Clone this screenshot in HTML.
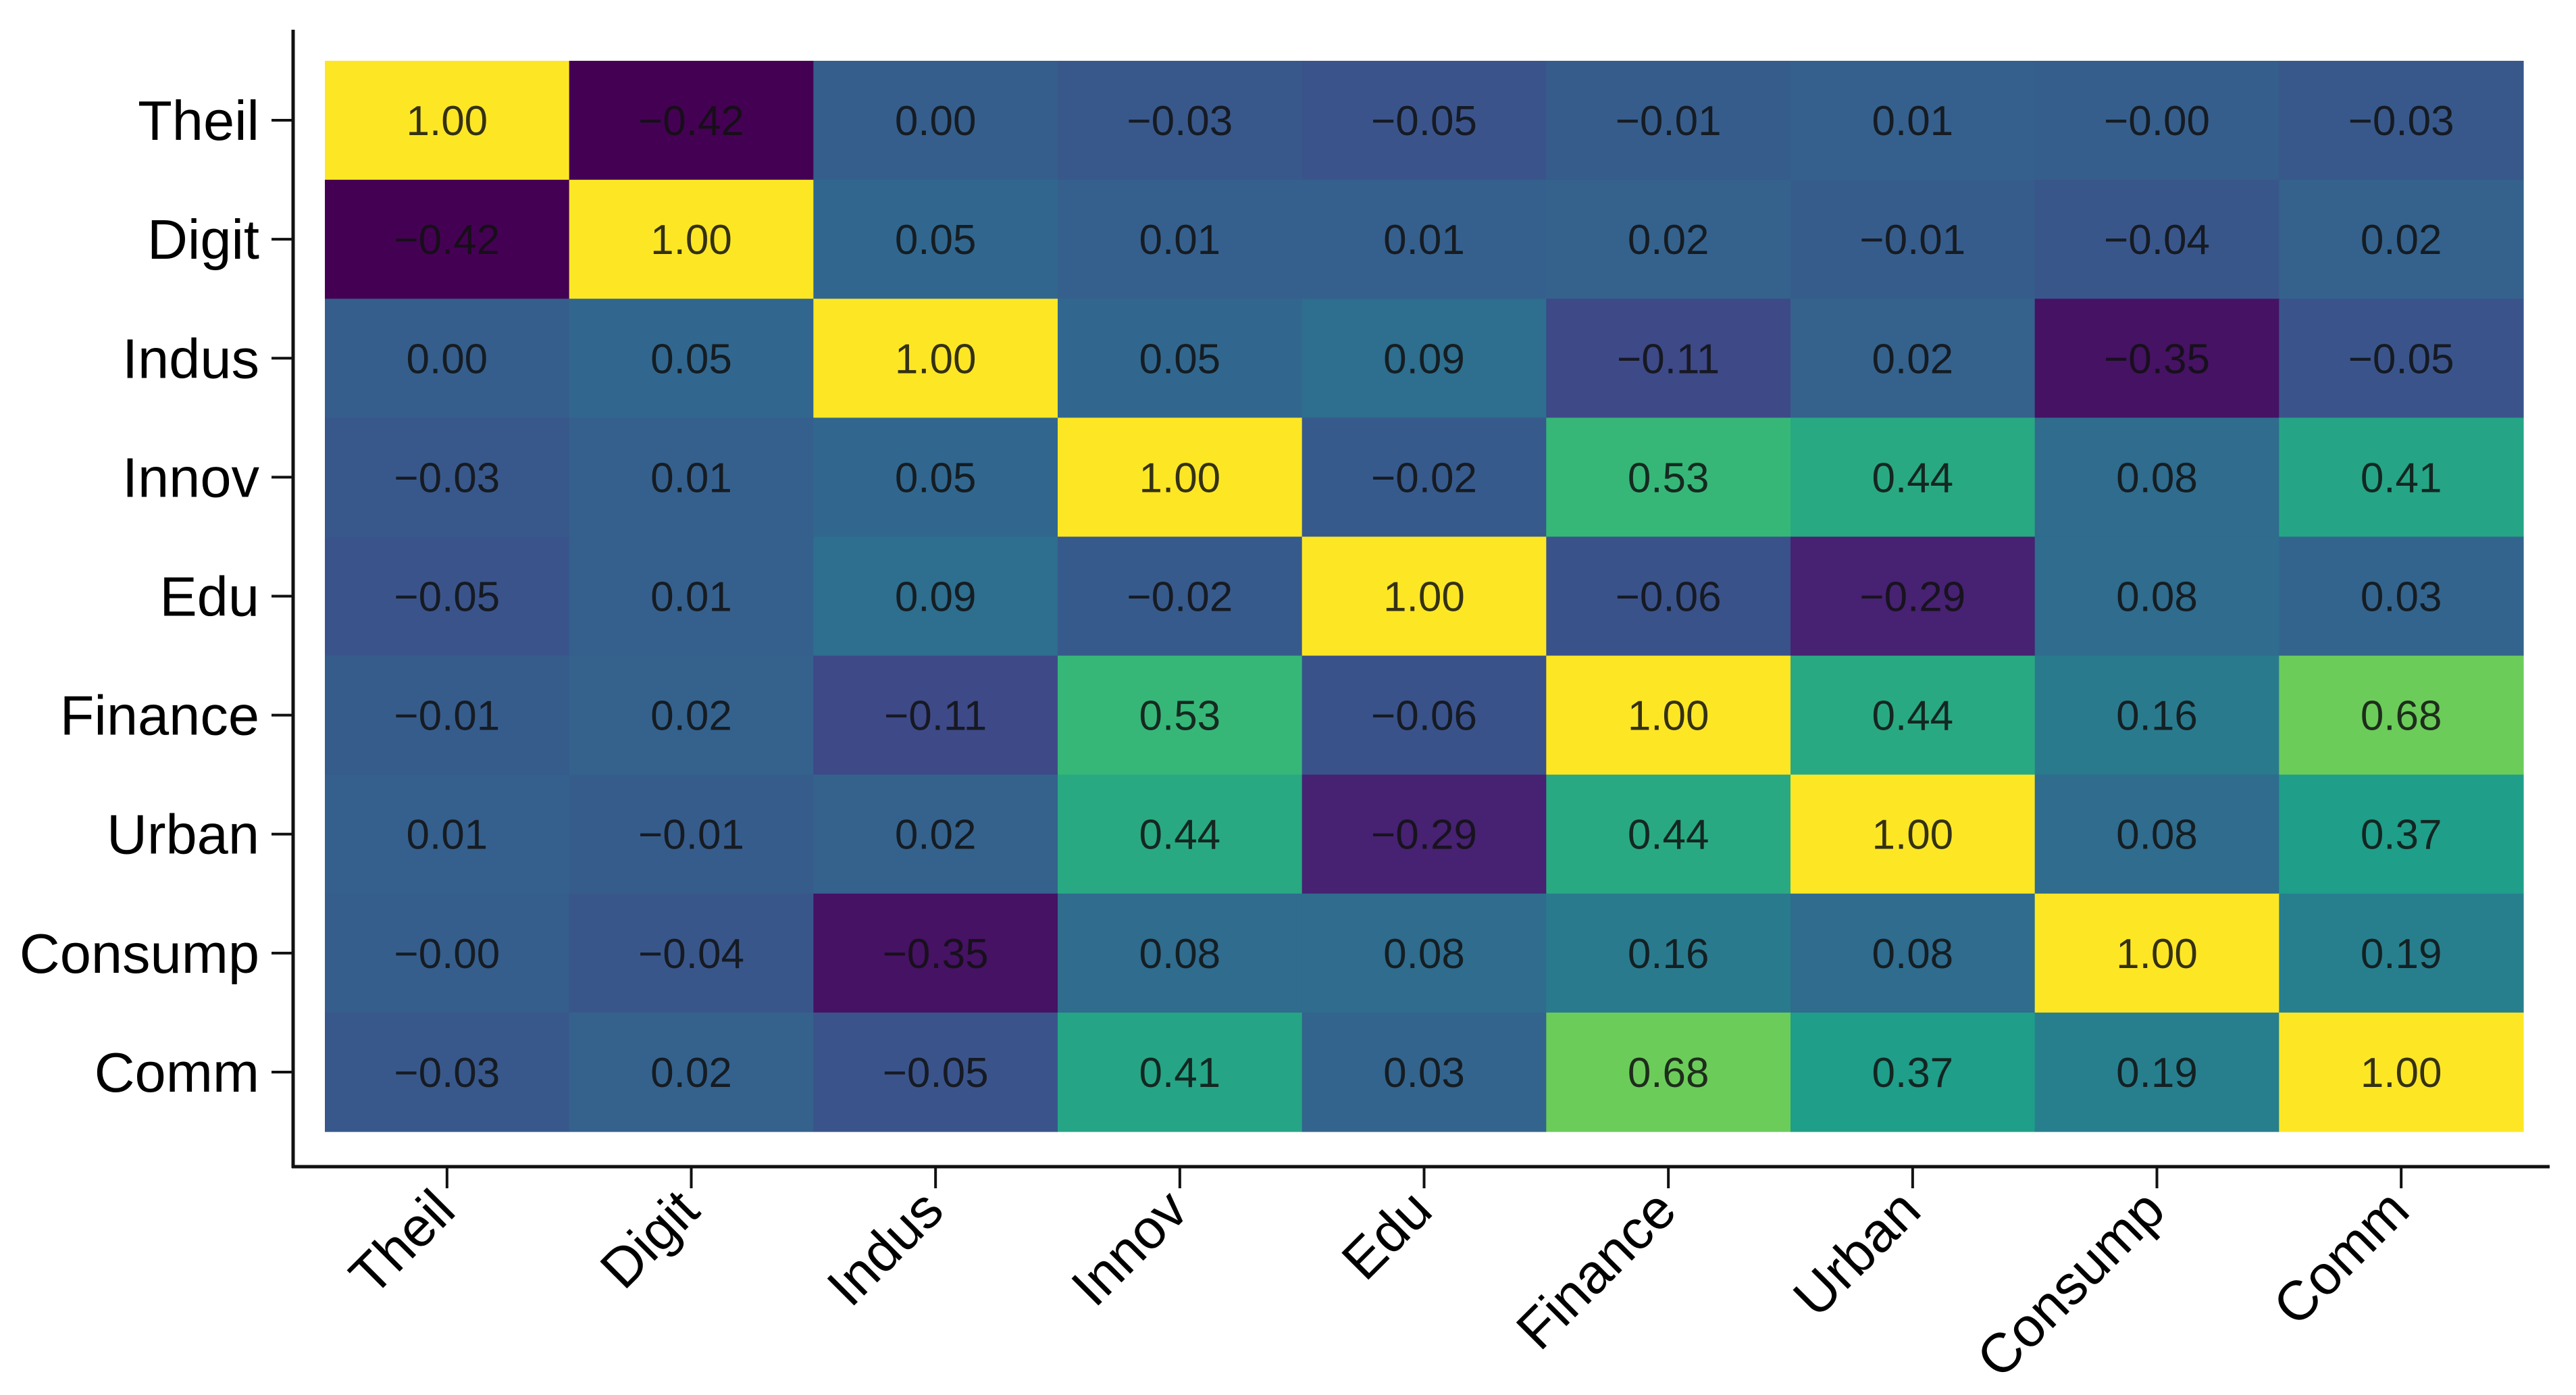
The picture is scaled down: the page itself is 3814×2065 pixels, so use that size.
<!DOCTYPE html>
<html><head><meta charset="utf-8"><style>
html,body{margin:0;padding:0;background:#fff;}
svg{display:block;font-family:"Liberation Sans",Arial,sans-serif;}
</style></head><body>
<svg id="chart" width="3814" height="2065" viewBox="0 0 3814 2065" xmlns="http://www.w3.org/2000/svg">
<rect width="3814" height="2065" fill="#fff"/>
<g id="cells"></g>
<g id="labels"></g>
<g id="axes"></g>
</svg>
<script>
const variables = ["Theil","Digit","Indus","Innov","Edu","Finance","Urban","Consump","Comm"];
const row0 = [1,-0.42,0.00,-0.03,-0.05,-0.01,0.01,-0.00,-0.03];
const row1 = [-0.42,1,0.05,0.01,0.01,0.02,-0.01,-0.04,0.02];
const row2 = [0.00,0.05,1,0.05,0.09,-0.11,0.02,-0.35,-0.05];
const row3 = [-0.03,0.01,0.05,1,-0.02,0.53,0.44,0.08,0.41];
const row4 = [-0.05,0.01,0.09,-0.02,1,-0.06,-0.29,0.08,0.03];
const row5 = [-0.01,0.02,-0.11,0.53,-0.06,1,0.44,0.16,0.68];
const row6 = [0.01,-0.01,0.02,0.44,-0.29,0.44,1,0.08,0.37];
const row7 = [-0.00,-0.04,-0.35,0.08,0.08,0.16,0.08,1,0.19];
const row8 = [-0.03,0.02,-0.05,0.41,0.03,0.68,0.37,0.19,1];
const matrix = [row0,row1,row2,row3,row4,row5,row6,row7,row8];
const valueLabels = [
 ["1.00","−0.42","0.00","−0.03","−0.05","−0.01","0.01","−0.00","−0.03"],
 ["−0.42","1.00","0.05","0.01","0.01","0.02","−0.01","−0.04","0.02"],
 ["0.00","0.05","1.00","0.05","0.09","−0.11","0.02","−0.35","−0.05"],
 ["−0.03","0.01","0.05","1.00","−0.02","0.53","0.44","0.08","0.41"],
 ["−0.05","0.01","0.09","−0.02","1.00","−0.06","−0.29","0.08","0.03"],
 ["−0.01","0.02","−0.11","0.53","−0.06","1.00","0.44","0.16","0.68"],
 ["0.01","−0.01","0.02","0.44","−0.29","0.44","1.00","0.08","0.37"],
 ["−0.00","−0.04","−0.35","0.08","0.08","0.16","0.08","1.00","0.19"],
 ["−0.03","0.02","−0.05","0.41","0.03","0.68","0.37","0.19","1.00"]
];
const colorMin = -0.42, colorMax = 1;

const NS="http://www.w3.org/2000/svg";
const L=481,R=3736,T=90,B=1675;
const n=variables.length, cw=(R-L)/n, ch=(B-T)/n;
const xPos=i=>L+cw*i, yPos=j=>T+ch*j;
const vir=[[68,1,84],[72,40,120],[62,74,137],[49,104,142],[38,130,142],[31,158,137],[53,183,121],[109,205,89],[180,222,44],[253,231,37]];
function color(v){let t=(v-colorMin)/(colorMax-colorMin);t=Math.max(0,Math.min(1,t));
 const p=t*(vir.length-1),i=Math.min(Math.floor(p),vir.length-2),f=p-i;
 const c=vir[i].map((a,k)=>Math.round(a+(vir[i+1][k]-a)*f));return `rgb(${c})`;}
function mk(tag,attrs,parent){const e=document.createElementNS(NS,tag);for(const k in attrs)e.setAttribute(k,attrs[k]);parent.appendChild(e);return e;}
const cells=document.getElementById('cells'),labels=document.getElementById('labels'),axes=document.getElementById('axes');
for(let r=0;r<n;r++)for(let c=0;c<n;c++){
 const rc=mk('rect',{x:xPos(c),y:yPos(r),width:cw+0.6,height:ch+0.6,fill:color(matrix[r][c])},cells);
 
 
 const t=mk('text',{x:xPos(c)+cw/2,y:yPos(r)+ch/2+22,'text-anchor':'middle','font-size':62,fill:'#111','fill-opacity':0.85},labels);
 t.textContent=valueLabels[r][c];
 
 
}
const ya=mk('line',{x1:434,y1:44,x2:434,y2:1729,stroke:'#111','stroke-width':5},axes);


const xa=mk('line',{x1:432,y1:1727,x2:3775,y2:1727,stroke:'#111','stroke-width':5},axes);


for(let i=0;i<n;i++){
 const cy=yPos(i)+ch/2, cx=xPos(i)+cw/2;
 const yt=mk('line',{x1:402,y1:cy,x2:434,y2:cy,stroke:'#111','stroke-width':4},axes);
 
 
 const yl=mk('text',{x:384,y:cy+29,'text-anchor':'end','font-size':83,fill:'#000'},axes);
 yl.textContent=variables[i];
 
 
 const xt=mk('line',{x1:cx,y1:1727,x2:cx,y2:1759,stroke:'#111','stroke-width':4},axes);
 
 
 const xl=mk('text',{x:cx+16,y:1796,'text-anchor':'end','font-size':82,fill:'#000',transform:`rotate(-45 ${cx+16} 1796)`},axes);
 xl.textContent=variables[i];
 
 
}
</script>
</body></html>
